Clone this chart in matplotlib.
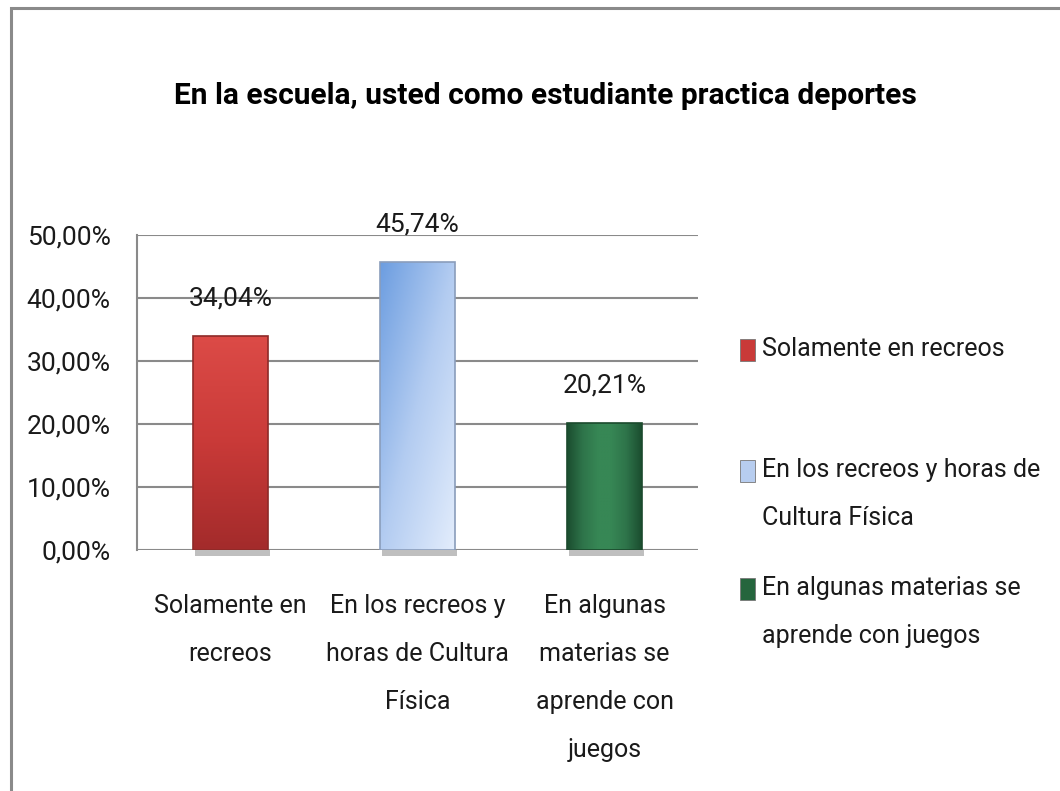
import numpy as np
import matplotlib
matplotlib.use('Agg')
import matplotlib.pyplot as plt
from matplotlib.patches import Rectangle
from matplotlib.colors import LinearSegmentedColormap

# data
categories = ['Solamente en\nrecreos',
              'En los recreos y\nhoras de Cultura\nFísica',
              'En algunas\nmaterias se\naprende con\njuegos']
legend_labels = ['Solamente en recreos',
                 'En los recreos y horas de\nCultura Física',
                 'En algunas materias se\naprende con juegos']
values = [0.3404, 0.4574, 0.2021]
value_labels = ['34,04%', '45,74%', '20,21%']
yticks = [0.0, 0.1, 0.2, 0.3, 0.4, 0.5]
ytick_labels = ['0,00%', '10,00%', '20,00%', '30,00%', '40,00%', '50,00%']
title = 'En la escuela, usted como estudiante practica deportes'

plt.rcParams['font.family'] = ['Roboto', 'DejaVu Sans']

W, H = 1060, 791
FS = 18
LS = 2.25
fig = plt.figure(figsize=(W / 100, H / 100), dpi=100)
fig.patch.set_facecolor('white')


def fx(px):
    return px / W


def fy(py):
    return 1 - py / H


# outer frame (only top and left edges show in the picture)
fig.patches.append(Rectangle((fx(11), -0.1), 1.2, fy(8) + 0.1, transform=fig.transFigure,
                             fill=False, edgecolor='#8a8a8a', linewidth=2.2))

ax = fig.add_axes([fx(137), fy(550), fx(698) - fx(137), fy(235) - fy(550)])
ax.set_xlim(-0.5, 2.5)
ax.set_ylim(0, 0.5)

bar_w = 0.40
grad_cols = [
    ['#a32b2b', '#c93a38', '#dc4b47'],
    ['#6c9de0', '#b3ccf1', '#e3edfc'],
    ['#1b4d2f', '#2e744a', '#378755'],
]
edge_cols = ['#8e2a28', '#8a9dbb', '#1b4a2d']

bars = ax.bar(range(3), values, width=bar_w, color='none', edgecolor='none', zorder=3)
n = 200
for i, b in enumerate(bars):
    x0 = b.get_x()
    h = b.get_height()
    cmap = LinearSegmentedColormap.from_list('g%d' % i, grad_cols[i])
    if i == 0:
        img = np.linspace(0, 1, n).reshape(n, 1)
    elif i == 1:
        xx, yy = np.meshgrid(np.linspace(0, 1, n), np.linspace(1, 0, n))
        img = (xx + yy) / 2
    else:
        img = np.clip((1 - np.abs(np.linspace(-1, 1, n))) * 1.2, 0, 1).reshape(1, n)
        img = np.repeat(img, 2, axis=0)
    im = ax.imshow(img, extent=[x0, x0 + bar_w, 0, h], origin='lower', aspect='auto',
                   cmap=cmap, zorder=3, interpolation='bilinear')
    im.set_clip_path(b)
    ax.add_patch(Rectangle((x0, 0), bar_w, h, fill=False, edgecolor=edge_cols[i],
                           linewidth=1.2, zorder=4))
    # drop shadow under the bar
    ax.add_patch(Rectangle((x0 + 0.01, -0.009), bar_w, 0.009, facecolor='#8c8c8c',
                           edgecolor='none', alpha=0.55, zorder=2, clip_on=False))
    ax.annotate(value_labels[i], (i, h), xytext=(0, 27), textcoords='offset points',
                ha='center', va='center', fontsize=FS + 1, color='#1a1a1a', zorder=5)

ax.set_yticks(yticks)
ax.set_yticklabels(ytick_labels)
ax.set_xticks(range(3))
ax.set_xticklabels(categories, linespacing=LS)
ax.tick_params(axis='y', length=0, pad=19, labelsize=FS + 1, labelcolor='#1a1a1a')
ax.tick_params(axis='x', length=0, pad=32, labelsize=FS, labelcolor='#1a1a1a')
ax.yaxis.grid(True, color='#8a8a8a', linewidth=1.5, zorder=0)
ax.set_axisbelow(True)
for s in ['top', 'right', 'bottom']:
    ax.spines[s].set_visible(False)
ax.spines['left'].set_color('#8a8a8a')
ax.spines['left'].set_linewidth(1.5)

fig.text(fx(545), fy(96), title, ha='center', va='center', fontsize=21.5,
         fontweight='bold', color='#000000')

# legend drawn by hand to keep the uneven spacing of the original
leg_y = [350, 471, 589]
leg_cols = ['#c93a38', '#b7cdef', '#25653d']
for lab, y, c in zip(legend_labels, leg_y, leg_cols):
    fig.patches.append(Rectangle((fx(740), fy(y + 11)), fx(15), 22 / H, transform=fig.transFigure,
                                 facecolor=c, edgecolor='#777777', linewidth=0.6))
    fig.text(fx(762), fy(y - 13), lab, ha='left', va='top', fontsize=FS,
             color='#1a1a1a', linespacing=LS)

fig.savefig('out.png', dpi=100)
